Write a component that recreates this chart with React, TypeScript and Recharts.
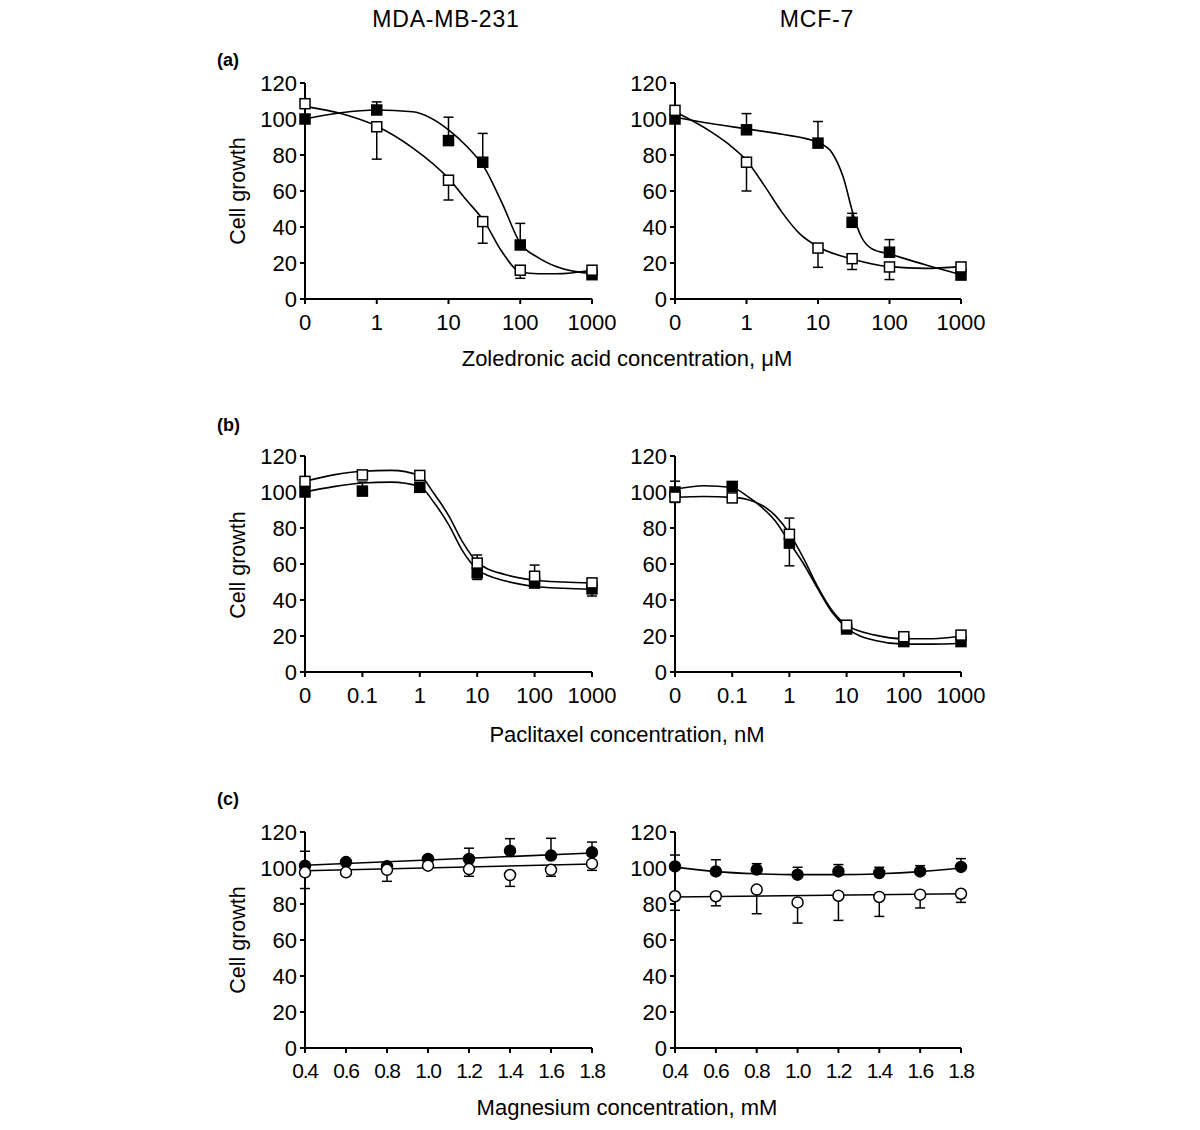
import { ComposedChart, Line, Scatter, XAxis, YAxis, ErrorBar } from "recharts";

// y axis (cell growth, %)
const growthTicks = [0, 20, 40, 60, 80, 100, 120];

// (a) zoledronic acid, µM
const zaTickLabels = ["0", "1", "10", "100", "1000"];
const zaDoses = [0, 1, 10, 30, 100, 1000];
const mdaZaFilled = [100, 105, 88, 76, 30, 13.5];
const mdaZaFilledErr = [0, 4.5, 13, 16, 12, 0];
const mdaZaOpen = [108.5, 95.7, 66, 43, 16, 16];
const mdaZaOpenErr = [0, -18, -11, -12, -4.5, 0];
const mdaZaFitPos = [0, 0.5, 1, 1.5, 2, 2.25, 2.5, 2.75, 3, 3.25, 3.5, 4];
const mdaZaFitFilled = [100, 103.5, 105, 104, 94, 85, 73, 53, 31, 23, 18, 14];
const mdaZaFitOpen = [107, 103, 96, 84, 67, 55, 43, 26, 15, 14, 14, 16];

const mcfZaFilled = [100, 94, 86.6, 42.6, 26, 13.3];
const mcfZaFilledErr = [0, 9, 12, 5, 7, 0];
const mcfZaOpen = [104.8, 76, 28.3, 22.4, 17.8, 17.8];
const mcfZaOpenErr = [0, -16, -10.7, -6, -7, 0];
const mcfZaFitFilledPos = [0, 0.5, 1, 1.5, 2, 2.2, 2.35, 2.5, 2.6, 2.75, 3, 3.5, 4];
const mcfZaFitFilled = [101, 97.5, 94.5, 91.5, 87, 81, 68, 46, 35, 28, 25, 19, 13.5];
const mcfZaFitOpenPos = [0, 0.5, 0.75, 1, 1.25, 1.5, 1.75, 2, 2.5, 3, 3.5, 4];
const mcfZaFitOpen = [104, 93, 86, 77, 63, 48, 36, 29, 22, 18, 17, 18];

// (b) paclitaxel, nM
const ptxTickLabels = ["0", "0.1", "1", "10", "100", "1000"];
const ptxDoses = [0, 0.1, 1, 10, 100, 1000];
const mdaPtxFilled = [100, 100.5, 102.6, 55, 49.4, 46.2];
const mdaPtxFilledErr = [0, 5, 0, -3.6, 0, -4];
const mdaPtxOpen = [105.9, 109.5, 109.2, 60.5, 53.2, 49.5];
const mdaPtxOpenErr = [0, 0, 0, 4.5, 6.2, 0];
const mdaPtxFitPos = [0, 0.5, 1, 1.5, 2, 2.25, 2.5, 2.75, 3, 3.5, 4, 4.5, 5];
const mdaPtxFitFilled = [100, 103, 105, 105.5, 103, 94, 82, 67, 57, 50.5, 47.5, 46.5, 46];
const mdaPtxFitOpen = [106, 109.5, 111.5, 112, 109, 99, 87, 72, 61, 54, 51, 50, 49.5];

const mcfPtxFilled = [100, 103.1, 71.6, 23.9, 16.9, 16.9];
const mcfPtxFilledErr = [6, 0, -12.6, 0, 0, 0];
const mcfPtxOpen = [97.2, 96.7, 76.5, 26, 19.6, 20.5];
const mcfPtxOpenErr = [-3, 0, 9, 2.4, 0, 0];
const mcfPtxFitPos = [0, 0.5, 1, 1.25, 1.5, 1.75, 2, 2.25, 2.5, 2.75, 3, 3.5, 4, 4.5, 5];
const mcfPtxFitFilled = [101.5, 103.5, 102.5, 98, 92, 84, 72, 60, 46, 33, 24.5, 17.5, 15.5, 15.5, 16];
const mcfPtxFitOpen = [97, 97.5, 97, 96, 93, 87, 77, 63, 47, 34, 26, 20.5, 18.5, 18.5, 20];

// (c) magnesium, mM
const mgTickLabels = ["0.4", "0.6", "0.8", "1.0", "1.2", "1.4", "1.6", "1.8"];
const mgDoses = [0.4, 0.6, 0.8, 1.0, 1.2, 1.4, 1.6, 1.8];
const mdaMgFilled = [101.3, 103.3, 101, 105, 105, 109.6, 106.9, 108.7];
const mdaMgFilledErr = [8, 0, 0, 0, 6, 6.7, 9.6, 5.7];
const mdaMgOpen = [97.6, 97.6, 99, 101.3, 99.4, 96.1, 99, 102.4];
const mdaMgOpenErr = [-9, 0, -6.4, 0, -4, -6.3, -3.6, -3.7];
const mdaMgFitPos = [0.4, 1.8];
const mdaMgFitFilled = [101.5, 108.3];
const mdaMgFitOpen = [98.5, 102.2];

const mcfMgFilled = [100.9, 98.1, 99.1, 96.3, 98.1, 97.2, 98.1, 100.6];
const mcfMgFilledErr = [6.3, 6.5, 3.3, 4.1, 3.8, 3.2, 3.2, 4.6];
const mcfMgOpen = [84.3, 84.3, 88, 80.9, 84.6, 83.9, 85.2, 85.7];
const mcfMgOpenErr = [-7.8, -5.3, -13.4, -11.5, -13.7, -10.8, -7.4, -4.8];
const mcfMgFitFilled = [100.5, 98, 96.8, 96.3, 96.3, 96.8, 98, 100];
const mcfMgFitOpenPos = [0.4, 1.8];
const mcfMgFitOpen = [83.9, 85.7];

const FONT = "'Liberation Sans', Arial, Helvetica, sans-serif";

// log-like axis position: 0 sits one decade before the first non-zero dose
const logPos = (firstDose: number) => (c: number) =>
  c === 0 ? 0 : Math.log10(c) - Math.log10(firstDose) + 1;
const linPos = (c: number) => c;

function points(doses: number[], vals: number[], errs: number[], pos: (c: number) => number) {
  return doses.map((d, i) => ({
    x: pos(d),
    y: vals[i],
    err: errs[i] >= 0 ? [0, errs[i]] : [-errs[i], 0],
  }));
}

function fit(xs: number[], ys: number[]) {
  return xs.map((x, i) => ({ x, y: ys[i] }));
}

const square = (fill: string) => (p: any) => (
  <rect x={p.cx - 5} y={p.cy - 5} width={10} height={10} fill={fill} stroke="#000" strokeWidth={1.5} />
);
const circle = (fill: string) => (p: any) => (
  <circle cx={p.cx} cy={p.cy} r={5.5} fill={fill} stroke="#000" strokeWidth={1.5} />
);

interface PanelProps {
  left: number;
  top: number;
  marginRight: number;
  filled: any[];
  open: any[];
  fitFilled: any[];
  fitOpen: any[];
  ticks: number[];
  tickLabels: string[];
  marker: "square" | "circle";
  narrow?: boolean;
}

function Panel({ left, top, marginRight, filled, open, fitFilled, fitOpen, ticks, tickLabels, marker, narrow }: PanelProps) {
  const shape = marker === "square" ? square : circle;
  const axisStyle = { stroke: "#000", strokeWidth: 2 };
  const xTick = narrow
    ? { fill: "#000", fontSize: 21, fontFamily: FONT, letterSpacing: -1.3 }
    : { fill: "#000", fontSize: 22, fontFamily: FONT };
  return (
    <div style={{ position: "absolute", left, top }}>
      <ComposedChart width={420} height={280} margin={{ top: 23, right: marginRight, bottom: 11, left: 0 }}>
        <XAxis
          type="number"
          dataKey="x"
          domain={[ticks[0], ticks[ticks.length - 1]]}
          ticks={ticks}
          interval={0}
          tickFormatter={(v: number) => tickLabels[ticks.findIndex((t) => Math.abs(t - v) < 1e-6)]}
          tick={xTick}
          axisLine={axisStyle}
          tickLine={axisStyle}
          tickSize={5}
          tickMargin={10}
          height={30}
        />
        <YAxis
          type="number"
          domain={[0, 120]}
          ticks={growthTicks}
          interval={0}
          tick={{ fill: "#000", fontSize: 22, fontFamily: FONT }}
          axisLine={axisStyle}
          tickLine={axisStyle}
          tickSize={5}
          tickMargin={3}
          width={105}
        />
        <Line data={fitFilled} dataKey="y" type="monotone" stroke="#000" strokeWidth={1.6} dot={false} isAnimationActive={false} />
        <Line data={fitOpen} dataKey="y" type="monotone" stroke="#000" strokeWidth={1.6} dot={false} isAnimationActive={false} />
        <Scatter data={filled} dataKey="y" shape={shape("#000")} isAnimationActive={false}>
          <ErrorBar dataKey="err" direction="y" width={5} stroke="#000" strokeWidth={1.5} isAnimationActive={false} />
        </Scatter>
        <Scatter data={open} dataKey="y" shape={shape("#fff")} isAnimationActive={false}>
          <ErrorBar dataKey="err" direction="y" width={5} stroke="#000" strokeWidth={1.5} isAnimationActive={false} />
        </Scatter>
      </ComposedChart>
    </div>
  );
}

export default function App() {
  const za = logPos(1);
  const ptx = logPos(0.1);
  const zaTicks = zaTickLabels.map((_, i) => i);
  const ptxTicks = ptxTickLabels.map((_, i) => i);
  const rows = [
    { mid: 191, label: "(a)", labelY: 66, title: "Zoledronic acid concentration, μM", titleY: 366 },
    { mid: 565, label: "(b)", labelY: 431, title: "Paclitaxel concentration, nM", titleY: 742 },
    { mid: 940, label: "(c)", labelY: 805, title: "Magnesium concentration, mM", titleY: 1115 },
  ];
  return (
    <div style={{ position: "absolute", left: 0, top: 0, width: 1200, height: 1130, background: "#fff", fontFamily: FONT }}>
      <Panel
        left={200} top={60} marginRight={28} marker="square"
        filled={points(zaDoses, mdaZaFilled, mdaZaFilledErr, za)}
        open={points(zaDoses, mdaZaOpen, mdaZaOpenErr, za)}
        fitFilled={fit(mdaZaFitPos, mdaZaFitFilled)}
        fitOpen={fit(mdaZaFitPos, mdaZaFitOpen)}
        ticks={zaTicks} tickLabels={zaTickLabels}
      />
      <Panel
        left={570} top={60} marginRight={29} marker="square"
        filled={points(zaDoses, mcfZaFilled, mcfZaFilledErr, za)}
        open={points(zaDoses, mcfZaOpen, mcfZaOpenErr, za)}
        fitFilled={fit(mcfZaFitFilledPos, mcfZaFitFilled)}
        fitOpen={fit(mcfZaFitOpenPos, mcfZaFitOpen)}
        ticks={zaTicks} tickLabels={zaTickLabels}
      />
      <Panel
        left={200} top={433} marginRight={28} marker="square"
        filled={points(ptxDoses, mdaPtxFilled, mdaPtxFilledErr, ptx)}
        open={points(ptxDoses, mdaPtxOpen, mdaPtxOpenErr, ptx)}
        fitFilled={fit(mdaPtxFitPos, mdaPtxFitFilled)}
        fitOpen={fit(mdaPtxFitPos, mdaPtxFitOpen)}
        ticks={ptxTicks} tickLabels={ptxTickLabels}
      />
      <Panel
        left={570} top={433} marginRight={29} marker="square"
        filled={points(ptxDoses, mcfPtxFilled, mcfPtxFilledErr, ptx)}
        open={points(ptxDoses, mcfPtxOpen, mcfPtxOpenErr, ptx)}
        fitFilled={fit(mcfPtxFitPos, mcfPtxFitFilled)}
        fitOpen={fit(mcfPtxFitPos, mcfPtxFitOpen)}
        ticks={ptxTicks} tickLabels={ptxTickLabels}
      />
      <Panel
        left={200} top={809} marginRight={28} marker="circle" narrow
        filled={points(mgDoses, mdaMgFilled, mdaMgFilledErr, linPos)}
        open={points(mgDoses, mdaMgOpen, mdaMgOpenErr, linPos)}
        fitFilled={fit(mdaMgFitPos, mdaMgFitFilled)}
        fitOpen={fit(mdaMgFitPos, mdaMgFitOpen)}
        ticks={mgDoses} tickLabels={mgTickLabels}
      />
      <Panel
        left={570} top={809} marginRight={29} marker="circle" narrow
        filled={points(mgDoses, mcfMgFilled, mcfMgFilledErr, linPos)}
        open={points(mgDoses, mcfMgOpen, mcfMgOpenErr, linPos)}
        fitFilled={fit(mgDoses, mcfMgFitFilled)}
        fitOpen={fit(mcfMgFitOpenPos, mcfMgFitOpen)}
        ticks={mgDoses} tickLabels={mgTickLabels}
      />
      <svg width={1200} height={1130} style={{ position: "absolute", left: 0, top: 0, pointerEvents: "none" }}>
        <text x={446} y={27} textAnchor="middle" fontSize={23} letterSpacing={0.8} fill="#000">MDA-MB-231</text>
        <text x={817} y={27} textAnchor="middle" fontSize={23} letterSpacing={0.8} fill="#000">MCF-7</text>
        {rows.map((r) => (
          <g key={r.label}>
            <text x={217} y={r.labelY} fontSize={18} fontWeight="bold" fill="#000">{r.label}</text>
            <text x={627} y={r.titleY} textAnchor="middle" fontSize={22} fill="#000">{r.title}</text>
            <text
              x={238} y={r.mid} textAnchor="middle" dominantBaseline="central" fontSize={21.5} fill="#000"
              transform={`rotate(-90 238 ${r.mid})`}
            >
              Cell growth
            </text>
          </g>
        ))}
      </svg>
    </div>
  );
}
